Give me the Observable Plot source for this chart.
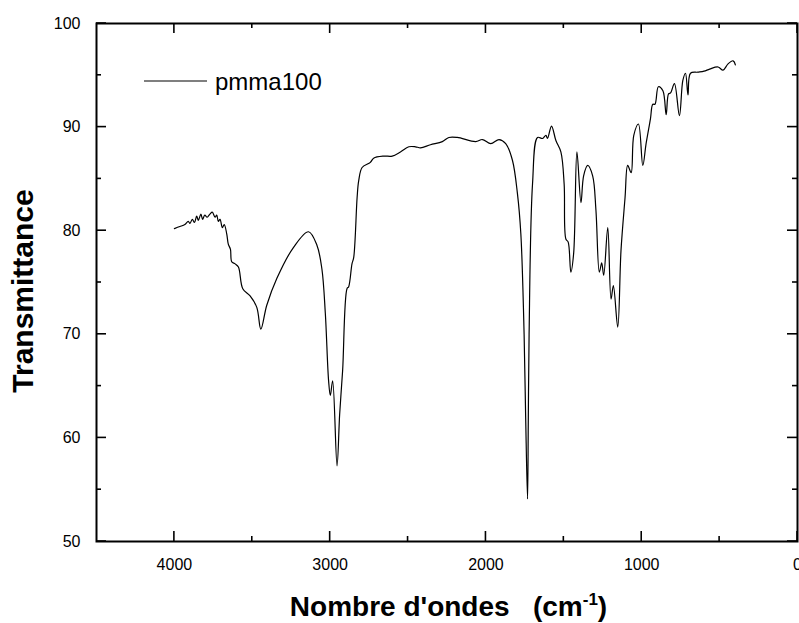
<!DOCTYPE html>
<html><head><meta charset="utf-8">
<script src="https://cdn.jsdelivr.net/npm/d3@7"></script>
<script src="https://cdn.jsdelivr.net/npm/@observablehq/plot@0.6"></script>
<style>
body{margin:0;background:#fff;}
#chart{width:799px;height:623px;}
</style></head><body><div id="chart"></div>
<script>
const seriesName = "pmma100";
const wavenumber = [4000,3965,3933,3911,3900,3885,3871,3857,3846,3830,3819,3805,3790,3772,3757,3739,3728,3718,3707,3692,3680,3664,3654,3640,3632,3610,3589,3561,3514,3471,3445,3407,3342,3235,3139,3085,3053,3031,3010,2999,2984,2956,2939,2920,2892,2881,2860,2849,2827,2817,2795,2742,2721,2656,2602,2549,2495,2452,2420,2356,2280,2238,2184,2066,2023,1969,1916,1873,1830,1798,1776,1755,1745,1733,1728,1723,1701,1669,1637,1615,1605,1579,1551,1519,1498,1487,1472,1455,1437,1416,1390,1373,1347,1315,1294,1272,1257,1244,1218,1197,1182,1154,1133,1107,1090,1068,1051,1021,993,972,944,929,915,893,864,843,828,815,790,758,736,719,703,687,639,600,564,510,478,446,414,399];
const transmittance = [80.2,80.4,80.6,80.9,80.7,81.1,80.8,81.4,81.0,81.6,81.1,81.5,81.3,81.6,81.8,81.3,81.5,80.9,81.1,80.3,80.6,79.7,78.7,78.2,77.0,76.8,76.5,74.4,73.7,72.6,70.5,72.8,75.4,78.4,79.9,78.6,76.3,72.0,65.5,64.1,65.5,57.3,62.3,66.5,74.4,74.6,76.8,77.4,83.2,84.8,86.1,86.6,87.0,87.2,87.2,87.6,88.1,88.1,88.0,88.3,88.6,89.0,89.0,88.6,88.8,88.4,88.8,88.4,86.8,83.6,79.7,70.0,62.0,54.1,62.0,70.0,84.5,89.0,88.9,89.2,88.9,90.1,88.7,87.6,84.5,79.2,78.9,76.0,77.8,87.6,82.7,85.3,86.3,85.3,82.0,76.0,76.9,75.7,80.3,73.4,74.7,70.7,78.1,83.2,86.3,85.6,89.2,90.3,86.3,88.4,90.8,92.2,92.2,93.9,93.5,91.2,93.2,93.3,94.2,91.1,94.5,95.2,93.1,95.2,95.3,95.4,95.6,95.8,95.5,96.1,96.4,96.0];
const xMajorTicks = [4000,3000,2000,1000,0];
const xMinorTicks = [3500,2500,1500,500];
const yMajorTicks = [50,60,70,80,90,100];
const yMinorTicks = [55,65,75,85,95];
const xTitle = "Nombre d'ondes   (cm";
const xTitleSup = "-1";
const yTitle = "Transmittance";

const data = wavenumber.map((w,i)=>({w, t: transmittance[i]}));
const W=799,H=623,mL=96,mR=2,mT=23,mB=82;
const fw=W-mL-mR, fh=H-mT-mB;
const font = "'Liberation Sans', Arial, sans-serif";

const plot = Plot.plot({
  width:W, height:H, marginLeft:mL, marginRight:mR, marginTop:mT, marginBottom:mB,
  style:{fontFamily:font, fontSize:"16px", color:"#000", background:"#fff", overflow:"visible"},
  x:{domain:[4500,0], label:null},
  y:{domain:[50,100], label:null},
  marks:[
    Plot.line(data,{x:"w", y:"t", stroke:"#000", strokeWidth:1.2, curve:"catmull-rom"}),
    Plot.axisX(xMajorTicks,{anchor:"bottom", tickSize:0, tickPadding:17, label:null, fontSize:16, tickFormat:d=>String(d)}),
    Plot.axisY(yMajorTicks,{anchor:"left", tickSize:0, tickPadding:16, label:null, fontSize:16, tickFormat:d=>String(d)}),
    Plot.frame({stroke:"#000", strokeWidth:2})
  ]
});
document.getElementById("chart").appendChild(plot);
const svg = d3.select(plot);
const sx = plot.scale("x"), sy = plot.scale("y");
const fTop = mT, fBot = H-mB, fLeft = mL, fRight = W-mR;
const g = svg.append("g").attr("stroke","#000").attr("stroke-width",1.6);
function xTick(v, len){
  const x = sx.apply(v);
  g.append("line").attr("x1",x).attr("x2",x).attr("y1",fBot).attr("y2",fBot-len);
  g.append("line").attr("x1",x).attr("x2",x).attr("y1",fTop).attr("y2",fTop+len);
}
function yTick(v, len){
  const y = sy.apply(v);
  g.append("line").attr("y1",y).attr("y2",y).attr("x1",fLeft).attr("x2",fLeft+len);
  g.append("line").attr("y1",y).attr("y2",y).attr("x1",fRight).attr("x2",fRight-len);
}
xMajorTicks.forEach(v=>xTick(v,10)); xMinorTicks.forEach(v=>xTick(v,5));
yMajorTicks.forEach(v=>yTick(v,10)); yMinorTicks.forEach(v=>yTick(v,5));
// axis titles
const xtt = svg.append("text")
  .attr("x", mL+fw/2+2).attr("y", 616)
  .attr("text-anchor","middle")
  .style("font-family",font).style("font-weight","bold").style("font-size","28px")
  .style("white-space","pre").attr("fill","#000");
xtt.append("tspan").text(xTitle);
xtt.append("tspan").attr("dy","-11").style("font-size","17px").text(xTitleSup);
xtt.append("tspan").attr("dy","11").text(")");
svg.append("text")
  .attr("transform",`translate(33,${mT+fh/2+9}) rotate(-90)`)
  .attr("text-anchor","middle")
  .style("font-family",font).style("font-weight","bold").style("font-size","30px")
  .attr("fill","#000").text(yTitle);
// legend
svg.append("line").attr("x1",144).attr("x2",207).attr("y1",81).attr("y2",81)
  .attr("stroke","#000").attr("stroke-width",1.2);
svg.append("text").attr("x",215).attr("y",90).attr("text-anchor","start")
  .style("font-family",font).style("font-size","24px").attr("fill","#000").text(seriesName);
</script></body></html>
